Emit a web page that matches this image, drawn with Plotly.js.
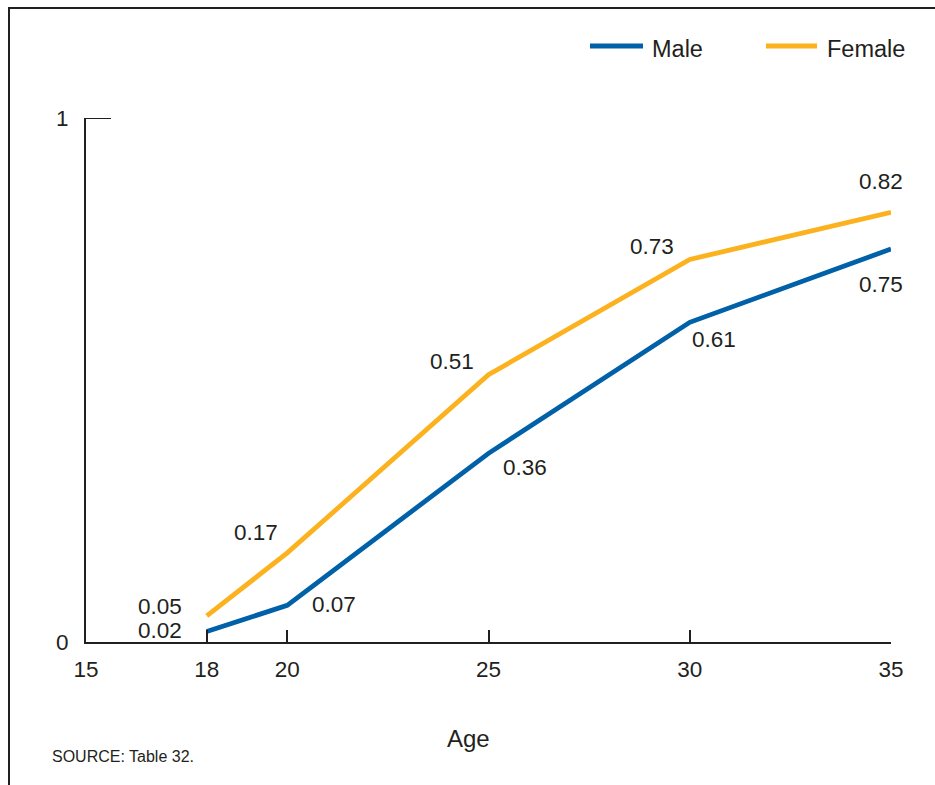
<!DOCTYPE html>
<html>
<head>
<meta charset="utf-8">
<script src="https://cdn.plot.ly/plotly-3.0.1.min.js"></script>
<style>
html,body{margin:0;padding:0;background:#fff;}
#wrap{position:relative;width:935px;height:785px;overflow:hidden;}
#chart{position:absolute;left:0;top:0;width:935px;height:785px;}
#frame{position:absolute;left:8px;top:7px;width:940px;height:800px;border-top:2px solid #231f20;border-left:2px solid #231f20;pointer-events:none;}
</style>
</head>
<body>
<div id="wrap"><div id="chart"></div><div id="frame"></div></div>
<script>
const ages = [18, 20, 25, 30, 35];
const seriesNames = ["Male", "Female"];
const maleValues = [0.02, 0.07, 0.36, 0.61, 0.75];
const femaleValues = [0.05, 0.17, 0.51, 0.73, 0.82];
const xTickVals = [15, 18, 20, 25, 30, 35];
const yTickVals = [0, 1];
const yTickText = ["0", "1"];
const xTitle = "Age";
const sourceNote = "SOURCE: Table 32.";

const BLUE = "#0060a8";
const GOLD = "#fbb21e";
const INK = "#231f20";
const FONT = "Liberation Sans, Arial, Helvetica, sans-serif";

const traces = [
  {x: ages, y: maleValues, name: seriesNames[0], mode: "lines", line: {color: BLUE, width: 4.8}, hoverinfo: "x+y+name"},
  {x: ages, y: femaleValues, name: seriesNames[1], mode: "lines", line: {color: GOLD, width: 4.8}, hoverinfo: "x+y+name"}
];

// label offsets (pixels) for each data label
const maleOffsets = [[-47, 1], [47, 1], [36, -14], [24, -17], [-10, -35]];
const femaleOffsets = [[-47, 9], [-31, 20], [-37, 13], [-38, 13], [-10, 31]];

const annotations = [];
function addLabels(vals, offs) {
  vals.forEach((v, i) => {
    annotations.push({
      x: ages[i], y: v, xref: "x", yref: "y", text: v.toFixed(2),
      showarrow: false, xshift: offs[i][0], yshift: offs[i][1],
      font: {family: FONT, size: 22.5, color: INK}
    });
  });
}
addLabels(maleValues, maleOffsets);
addLabels(femaleValues, femaleOffsets);

const px = v => (v - 86) / 805;
const py = v => (642 - v) / 524;

annotations.push({
  xref: "paper", yref: "paper", x: px(50), y: py(756),
  xanchor: "left", yanchor: "middle", showarrow: false, text: sourceNote,
  font: {family: FONT, size: 16, color: INK}
});
annotations.push({
  xref: "paper", yref: "paper", x: px(468), y: py(738),
  xanchor: "center", yanchor: "middle", showarrow: false, text: xTitle,
  font: {family: FONT, size: 24, color: INK}
});

// manual legend
const legendItems = [
  {name: seriesNames[0], color: BLUE, x0: 590, x1: 643, tx: 650},
  {name: seriesNames[1], color: GOLD, x0: 766, x1: 817, tx: 825}
];
const shapes = [];
legendItems.forEach(it => {
  shapes.push({type: "line", xref: "paper", yref: "paper", x0: px(it.x0), x1: px(it.x1), y0: py(46), y1: py(46),
    line: {color: it.color, width: 5}});
  annotations.push({xref: "paper", yref: "paper", x: px(it.tx), y: py(49), xanchor: "left", yanchor: "middle",
    showarrow: false, text: it.name, font: {family: FONT, size: 23.5, color: INK}});
});
// tick mark at y = 1 (inside, pointing right)
shapes.push({type: "line", xref: "paper", yref: "y", x0: 0, x1: 25 / 805, y0: yTickVals[1], y1: yTickVals[1],
  line: {color: INK, width: 2}});

const layout = {
  width: 935, height: 785,
  margin: {l: 86, r: 44, t: 118, b: 143},
  paper_bgcolor: "#fff", plot_bgcolor: "#fff",
  showlegend: false,
  font: {family: FONT, color: INK, size: 22},
  xaxis: {
    range: [15, 35], tickvals: xTickVals, ticks: "inside", ticklen: 12, tickwidth: 2, tickcolor: INK,
    showline: true, linewidth: 2, linecolor: INK, showgrid: false, zeroline: false,
    tickfont: {family: FONT, size: 22.5, color: INK}, ticklabelstandoff: 6,
    automargin: false, fixedrange: true
  },
  yaxis: {
    range: [0, 1], tickvals: yTickVals, ticktext: yTickText, ticks: "inside", ticklen: 24, tickwidth: 2, tickcolor: INK,
    showline: true, linewidth: 2, linecolor: INK, showgrid: false, zeroline: false,
    tickfont: {family: FONT, size: 22.5, color: INK}, ticklabelstandoff: 11,
    automargin: false, fixedrange: true
  },
  annotations: annotations,
  shapes: shapes
};

Plotly.newPlot("chart", traces, layout, {displayModeBar: false, staticPlot: true});
</script>
</body>
</html>
